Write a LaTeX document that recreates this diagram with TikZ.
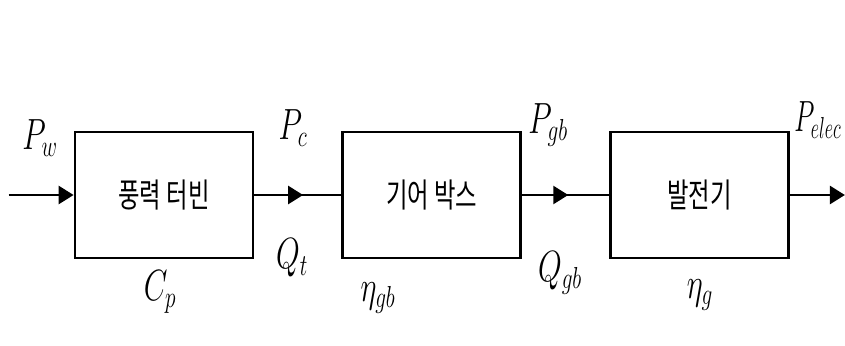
\documentclass[tikz,border=0pt]{standalone}
\usepackage{fontspec}
\usepackage{graphicx}
\newfontfamily\kofont[FakeStretch=0.7]{Noto Sans CJK KR}
\usetikzlibrary{arrows.meta,positioning,decorations.markings}
\newcommand{\lbl}[2][0.7]{\scalebox{#1}[1]{$#2$}}

\begin{document}
\begin{tikzpicture}[
  x=0.02cm, y=-0.02cm,
  every node/.style={font=\fontsize{27}{30}\selectfont},
  blk/.style   ={draw, line width=1.6pt, minimum width=3.56cm, minimum height=2.52cm,
                 font=\kofont\fontsize{19}{22}\selectfont},
  arr/.style   ={-{Triangle[length=0.3cm,width=0.36cm]}, line width=1.5pt},
  midarr/.style={line width=1.5pt, postaction={decorate},
                 decoration={markings,
                   mark=at position #1 with {\arrow{Triangle[length=0.3cm,width=0.36cm]}}}},
  node distance=1.74cm
]
\useasboundingbox (0,0) rectangle (845,345);

% Blocks
\node[blk] (turb) at (164,195) {풍력 터빈};
\node[blk, right=of turb] (gear) {기어 박스};
\node[blk, right=of gear] (gen)  {발전기};

\coordinate[left=1.3cm of turb.west] (in);
\coordinate[right=1.1cm of gen.east] (out);

% Signal labels
\node (pw)  at (40,138)  {\lbl{P_w}};
\node (pc)  at (293,128) {\lbl{P_c}};
\node (qt)  at (292,258) {\lbl{Q_t}};
\node (cp)  at (160,292) {\lbl{C_p}};
\node (egb) at (378,298) {\lbl{\eta_{gb}}};
\node (pgb) at (548,125) {\lbl{P_{gb}}};
\node (qgb) at (560,273) {\lbl{Q_{gb}}};
\node (eg)  at (700,295) {\lbl{\eta_g}};
\node[anchor=west, inner sep=0pt] (pel) at (794,120) {\lbl[0.6]{P_{elec}}};

% Arrows
\draw[arr] (in) -- (turb.west);
\draw[midarr=0.56] (turb.east) -- (gear.west);
\draw[midarr=0.53] (gear.east) -- (gen.west);
\draw[arr] (gen.east) -- (out);

\end{tikzpicture}
\end{document}
